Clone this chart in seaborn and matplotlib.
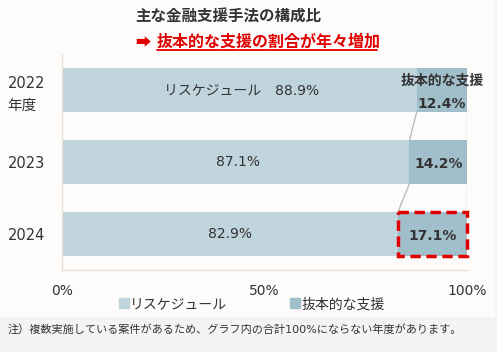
import matplotlib
matplotlib.use("Agg")
import matplotlib.pyplot as plt
import seaborn as sns
import pandas as pd
from matplotlib.patches import Rectangle
from matplotlib.lines import Line2D

# data
years = ["2022\n年度", "2023", "2024"]
reschedule = [88.9, 87.1, 82.9]
drastic = [12.4, 14.2, 17.1]
series_names = ["リスケジュール", "抜本的な支援"]

LIGHT = "#C0D4DD"
DARK = "#A1BFCB"
RED = "#E00000"
TXT = "#333333"

sns.set_theme(style="white")
plt.rcParams["font.family"] = ["DejaVu Sans", "Noto Sans CJK JP"]

fig = plt.figure(figsize=(4.97, 3.52), dpi=100)
fig.patch.set_facecolor("#F5F4F2")
# light panel behind the chart, note strip stays grey
fig.patches.append(Rectangle((0, 35 / 352), 495 / 497, 1 - 35 / 352,
                             transform=fig.transFigure, facecolor="#FDFCFB",
                             edgecolor="none", zorder=-5))

ax = fig.add_axes([62 / 497, 82 / 352, 405 / 497, 216 / 352])
ax.set_facecolor("none")

df = pd.DataFrame({"year": years, "reschedule": reschedule, "drastic": drastic})

sns.barplot(data=df, x="reschedule", y="year", orient="h", color=LIGHT,
            width=0.6, saturation=1, linewidth=0, ax=ax)
# the drastic share is drawn flush against 100% (totals exceed 100%)
ax.barh(range(len(years)), df["drastic"], left=100 - df["drastic"],
        height=0.6, color=DARK, linewidth=0, zorder=3)

ax.set_xlim(0, 100)
ax.set_ylim(2.5, -0.5)
ax.set_xlabel("")
ax.set_ylabel("")
ax.set_xticks([0, 50, 100])
ax.set_xticklabels(["0%", "50%", "100%"])

for s in ["top", "right"]:
    ax.spines[s].set_visible(False)
for s in ["left", "bottom"]:
    ax.spines[s].set_color("#E6DDD5")
    ax.spines[s].set_linewidth(1)

ax.tick_params(axis="x", length=5, width=1, color="#E6DDD5", direction="out",
               pad=5, labelsize=10, labelcolor=TXT)
ax.tick_params(axis="y", length=0, pad=39, labelsize=10.5, labelcolor=TXT)
for lbl in ax.get_yticklabels():
    lbl.set_horizontalalignment("left")
    lbl.set_linespacing(1.5)

# bar labels
for i, (r, d) in enumerate(zip(reschedule, drastic)):
    txt = f"{r}%" if i else f"リスケジュール　{r}%"
    ax.text(r / 2, i, txt, ha="center", va="center", fontsize=10, color=TXT, zorder=5)
    ax.text(100 - d / 2, i + (0.19 if i == 0 else 0.03), f"{d}%", ha="center",
            va="center", fontsize=10, fontweight="bold", color=TXT, zorder=5)
ax.text(100 - drastic[0] / 2, -0.13, "抜本的な支援", ha="center", va="center",
        fontsize=10, fontweight="bold", color=TXT, zorder=5, clip_on=False)

# series lines between the drastic segments
for i in range(len(years) - 1):
    ax.plot([100 - drastic[i], 100 - drastic[i + 1]], [i + 0.3, i + 0.7],
            color="#B5B5B5", lw=0.9, zorder=2)
    ax.plot([100, 100], [i + 0.3, i + 0.7], color="#B5B5B5", lw=0.9, zorder=2)

# highlight the 2024 drastic share
ax.add_patch(Rectangle((100 - drastic[2], 2 - 0.3), drastic[2], 0.6, fill=False,
                       edgecolor=RED, lw=2.5, linestyle=(0, (3, 1.6)),
                       zorder=6, clip_on=False))

# titles
fig.text(135 / 497, 1 - 17 / 352, "主な金融支援手法の構成比", ha="left", va="center",
         fontsize=11.2, fontweight="bold", color=TXT)
fig.text(135 / 497, 1 - 42 / 352, "➡", ha="left", va="center",
         fontsize=11, fontweight="bold", color=RED,
         family=["Noto Sans CJK JP", "DejaVu Sans"])
fig.text(157 / 497, 1 - 42 / 352, "抜本的な支援の割合が年々増加", ha="left", va="center",
         fontsize=11.5, fontweight="bold", color=RED)
fig.add_artist(Line2D([157 / 497, 377 / 497], [1 - 50 / 352, 1 - 50 / 352],
                      transform=fig.transFigure, color=RED, lw=1.3))

# legend
handles = [Line2D([], [], marker="s", ls="none", markersize=7, color=c)
           for c in (LIGHT, DARK)]
fig.legend(handles, series_names, loc="center", ncol=2, frameon=False,
           bbox_to_anchor=(252 / 497, 1 - 304 / 352), fontsize=10,
           handlelength=0.6, handletextpad=0.15, columnspacing=4.6,
           labelcolor=TXT)

fig.text(8 / 497, 1 - 329 / 352,
         "注）複数実施している案件があるため、グラフ内の合計100%にならない年度があります。",
         ha="left", va="center", fontsize=8, color=TXT)

fig.savefig("out.png", dpi=100)
